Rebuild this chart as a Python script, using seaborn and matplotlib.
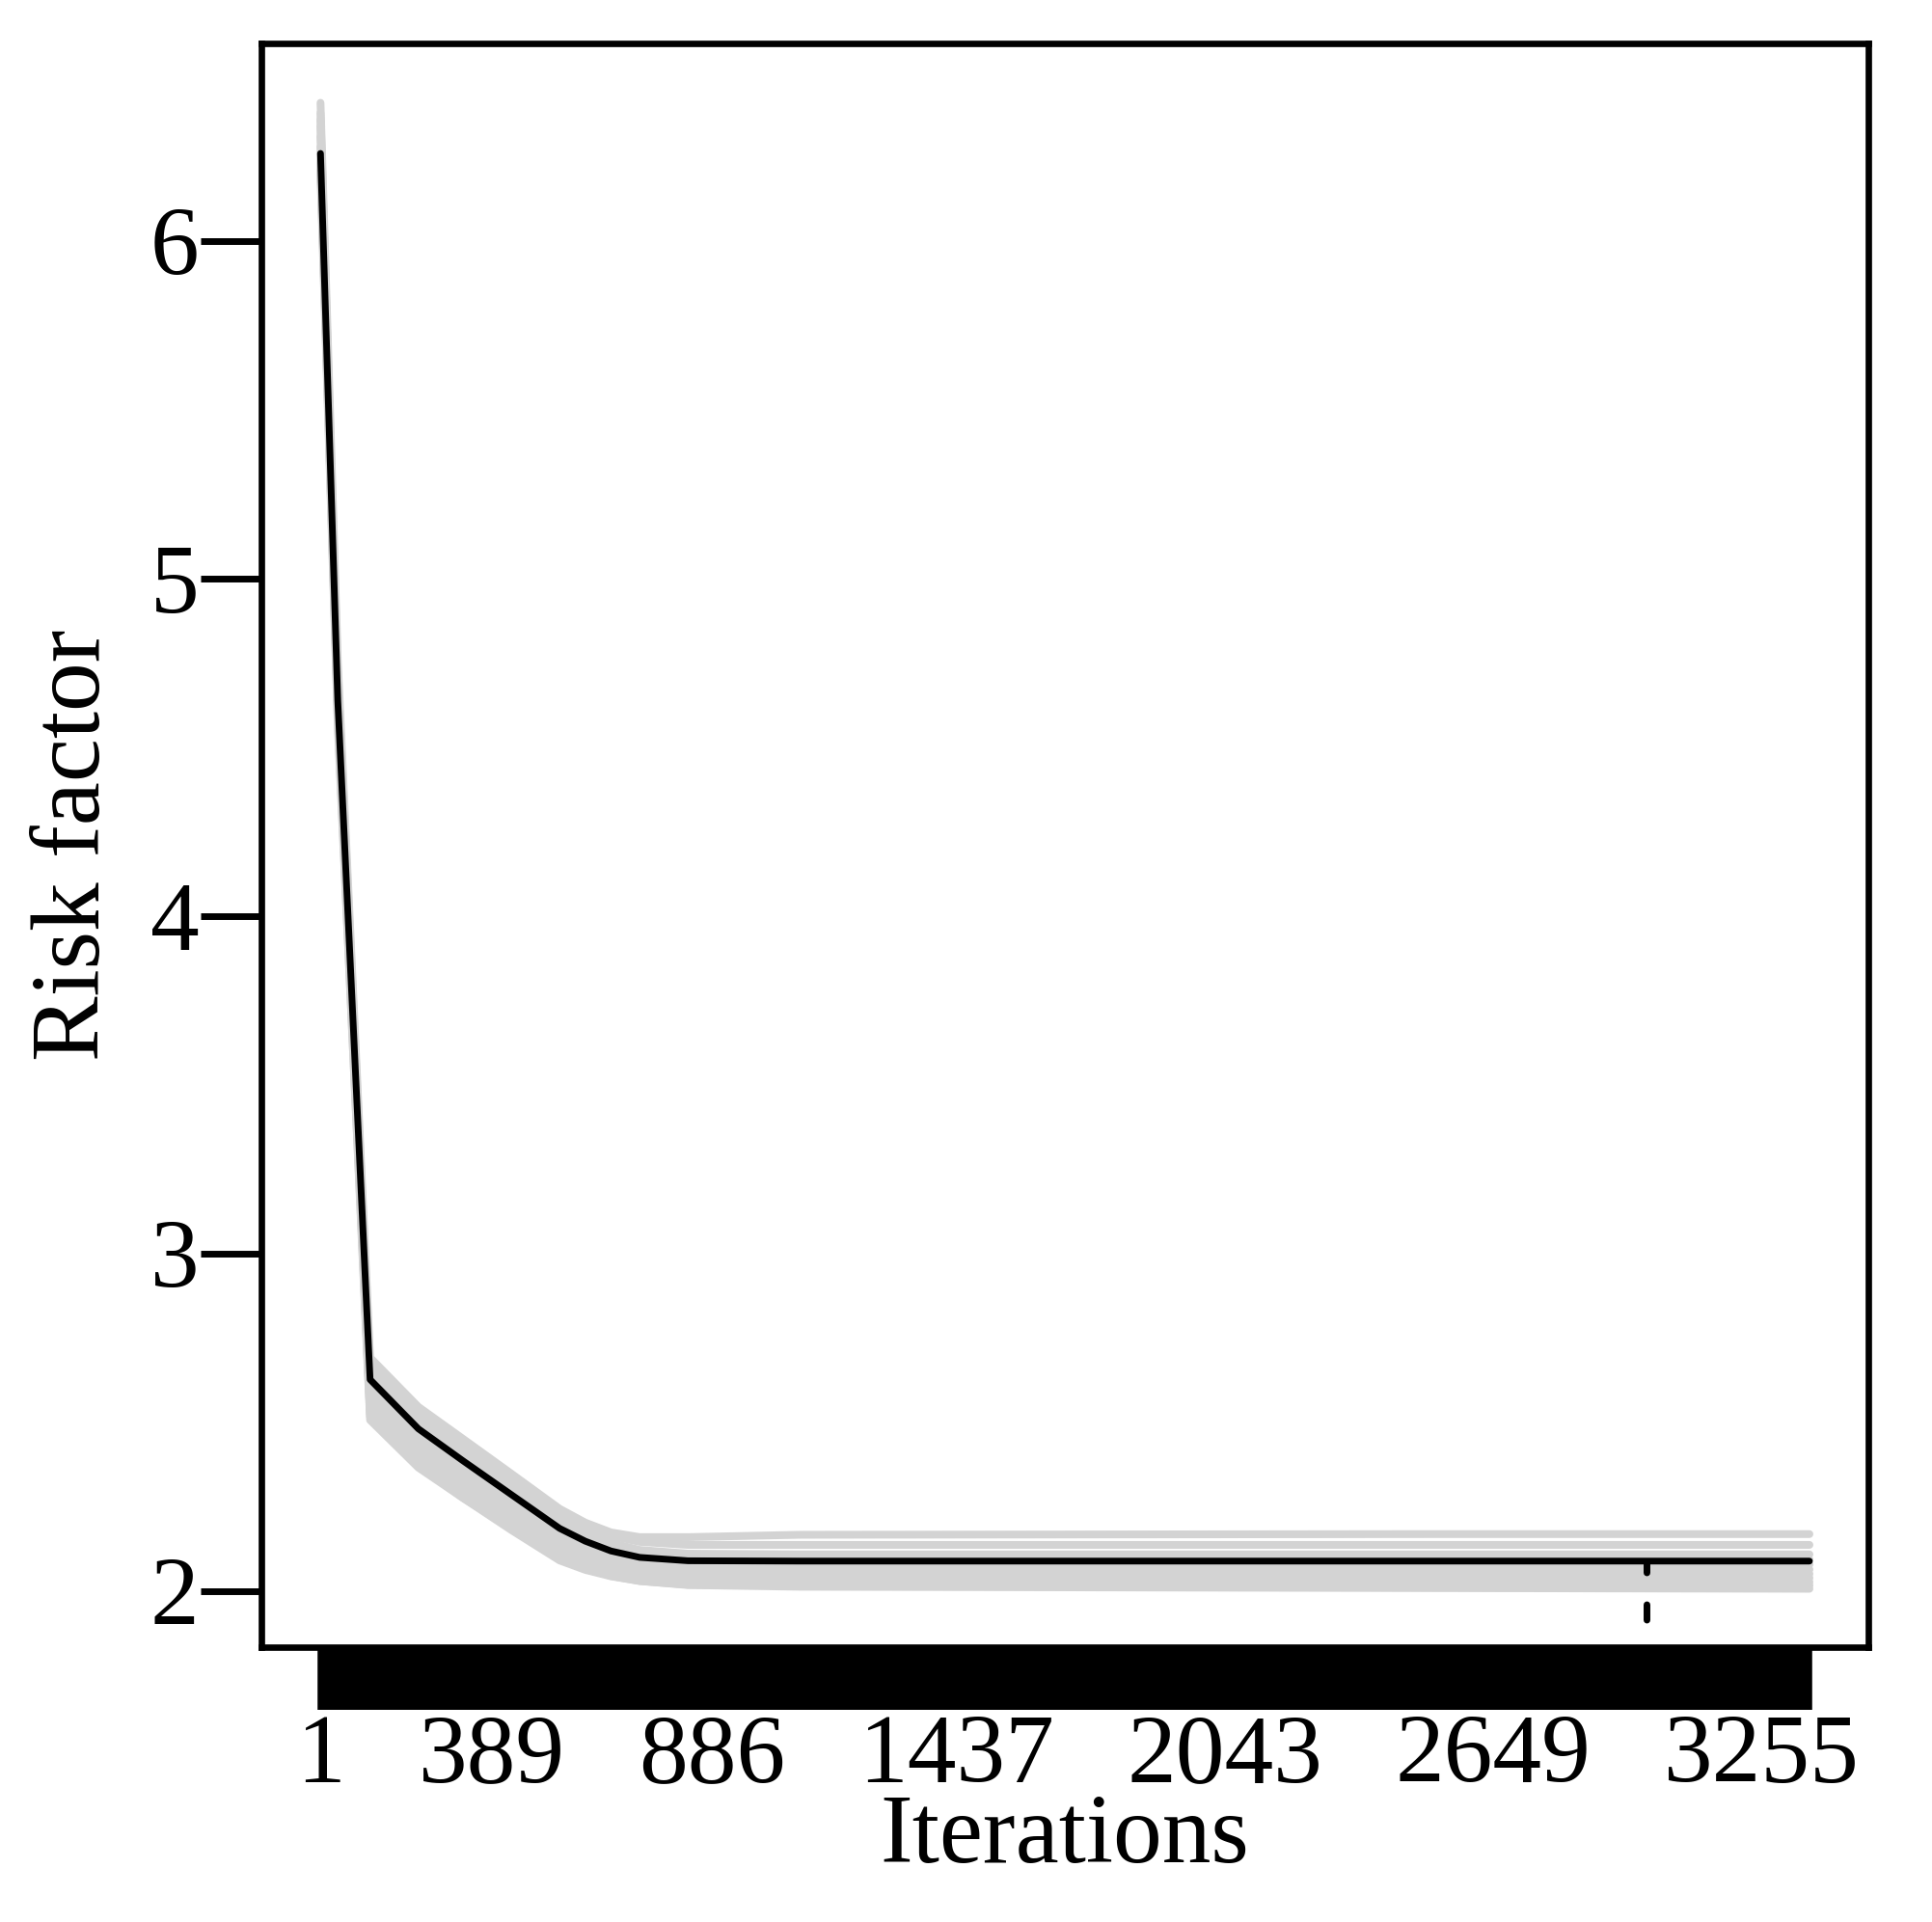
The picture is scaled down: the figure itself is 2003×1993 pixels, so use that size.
import numpy as np
import pandas as pd
import matplotlib
matplotlib.use("Agg")
import matplotlib.pyplot as plt
import seaborn as sns

# ---------------- data ----------------
iterations = [1, 40, 77, 113, 222, 323, 432, 541, 599, 657, 722, 831, 1085, 2500, 3364]

risk_best = [6.26, 4.64, 3.62, 2.627, 2.481, 2.386, 2.286, 2.186, 2.148, 2.119, 2.100, 2.090, 2.089, 2.089, 2.089]

risk_run01 = [6.41, 4.756, 3.71, 2.692, 2.546, 2.451, 2.348, 2.244, 2.203, 2.174, 2.16, 2.16, 2.167, 2.169, 2.169]
risk_run02 = [6.36, 4.72, 3.685, 2.677, 2.531, 2.436, 2.334, 2.232, 2.193, 2.164, 2.146, 2.137, 2.137, 2.137, 2.137]
risk_run03 = [6.31, 4.682, 3.656, 2.657, 2.511, 2.416, 2.314, 2.212, 2.173, 2.143, 2.122, 2.111, 2.109, 2.109, 2.109]
risk_run04 = [6.26, 4.644, 3.627, 2.637, 2.491, 2.396, 2.294, 2.192, 2.153, 2.124, 2.105, 2.095, 2.094, 2.094, 2.094]
risk_run05 = [6.23, 4.614, 3.597, 2.607, 2.461, 2.366, 2.268, 2.17, 2.133, 2.105, 2.088, 2.079, 2.079, 2.079, 2.079]
risk_run06 = [6.34, 4.67, 3.612, 2.582, 2.436, 2.341, 2.246, 2.151, 2.118, 2.091, 2.074, 2.065, 2.064, 2.064, 2.064]
risk_run07 = [6.21, 4.584, 3.56, 2.562, 2.416, 2.321, 2.226, 2.134, 2.103, 2.077, 2.06, 2.051, 2.051, 2.051, 2.051]
risk_run08 = [6.28, 4.618, 3.567, 2.542, 2.396, 2.301, 2.208, 2.118, 2.088, 2.064, 2.048, 2.04, 2.039, 2.039, 2.039]
risk_run09 = [6.20, 4.564, 3.532, 2.527, 2.381, 2.286, 2.194, 2.106, 2.078, 2.054, 2.037, 2.028, 2.027, 2.027, 2.027]
risk_run10 = [6.38, 4.668, 3.579, 2.517, 2.371, 2.276, 2.186, 2.098, 2.068, 2.045, 2.03, 2.019, 2.017, 2.017, 2.017]
risk_run11 = [6.24, 4.58, 3.53, 2.507, 2.366, 2.276, 2.181, 2.091, 2.063, 2.044, 2.03, 2.018, 2.013, 2.009, 2.007]

runs = [risk_run01, risk_run02, risk_run03, risk_run04, risk_run05, risk_run06,
        risk_run07, risk_run08, risk_run09, risk_run10, risk_run11]

n_iterations = 3364
tick_labels = [1, 389, 886, 1437, 2043, 2649, 3255]
y_ticks = [2, 3, 4, 5, 6]
marker_iteration = 2996
marker_top = 2.089

# ---------------- style ----------------
sns.set_theme(style="white")
plt.rcParams['font.family'] = ['Liberation Serif', 'DejaVu Serif']
plt.rcParams['lines.scale_dashes'] = False

fig = plt.figure(figsize=(20.03, 19.93), dpi=100)
ax = fig.add_axes([271/2003, 1 - 1708/1993, (1937-271)/2003, (1708-45)/1993])

rows = []
for i, r in enumerate(runs):
    for x, y in zip(iterations, r):
        rows.append({"Iterations": x, "Risk": y, "run": i})
df = pd.DataFrame(rows)

sns.lineplot(data=df, x="Iterations", y="Risk", units="run", estimator=None,
             color="#D3D3D3", lw=5.8, ax=ax, legend=False,
             solid_capstyle="round", solid_joinstyle="round")
sns.lineplot(x=iterations, y=risk_best, color="black", lw=5.0, ax=ax,
             solid_capstyle="round", solid_joinstyle="round")

ax.plot([marker_iteration, marker_iteration], [marker_top, 1.70], color="black",
        lw=5.0, linestyle=(3.24, (11.5, 23.8)), dash_capstyle="round")

ax.set_xlim(-132.5, 3497)
ax.set_ylim(1.834, 6.586)

# x axis: a tick for every iteration, labels at selected iterations
ax.xaxis.remove_overlapping_locs = False
ax.set_xticks(np.arange(1, n_iterations + 1), minor=True)
ax.set_xticks(tick_labels)
ax.set_xticklabels([str(t) for t in tick_labels])
ax.tick_params(axis="x", which="minor", bottom=True, direction="out",
               length=46.5, width=4, color="black")
ax.tick_params(axis="x", which="major", bottom=True, length=0, pad=50,
               labelsize=73, labelcolor="black")

ax.set_yticks(y_ticks)
ax.set_yticklabels([str(t) for t in y_ticks])
ax.tick_params(axis="y", which="major", left=True, direction="out",
               length=45.4, width=5, color="black", pad=1,
               labelsize=73, labelcolor="black")

for s in ax.spines.values():
    s.set_visible(True)
    s.set_color("black")
    s.set_linewidth(4.8)

ax.set_xlabel("Iterations", fontsize=73, color="black")
ax.set_ylabel("Risk factor", fontsize=73, color="black")
ax.xaxis.set_label_coords(0.5, -(1860 - 1708) / 1663)
ax.yaxis.set_label_coords((125 - 271) / 1666, 0.5)

fig.savefig("out.png", dpi=100, facecolor="white")
